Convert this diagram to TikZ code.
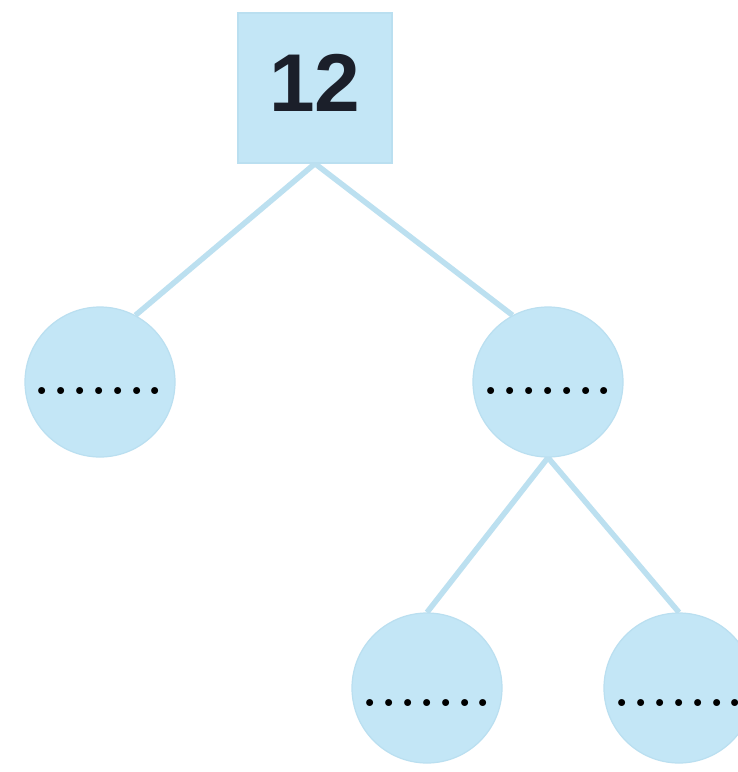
\documentclass[tikz,border=0pt]{standalone}
\usepackage{fontspec}
\setmainfont{Liberation Sans}
\newfontfamily\dotfamily{Latin Modern Roman}
\newcommand{\dotgap}{\hspace{-2.4pt}}
\newcommand{\dotline}{.\dotgap.\dotgap.\dotgap.\dotgap.\dotgap.\dotgap.}
\pgfdeclarelayer{paper}
\pgfdeclarelayer{links}
\pgfsetlayers{paper,links,main}
\begin{document}
\begin{tikzpicture}[x=1pt,y=-1pt,
  nodefill/.style={fill=bubble, draw=bubbleedge, line width=1.2pt},
  leaf/.style={nodefill, circle, minimum size=150pt, inner sep=0pt},
  rootbox/.style={nodefill, rectangle, minimum width=154pt, minimum height=150pt, inner sep=0pt,
     font=\fontsize{82}{90}\bfseries\selectfont, text=textdark, text depth=11pt},
  dotrow/.style={font=\dotfamily\fontsize{85}{90}\selectfont, text=black, anchor=base, inner sep=0pt},
  edge/.style={draw=linecol, line width=5.5pt}]
\definecolor{bubble}{HTML}{C3E6F6}
\definecolor{bubbleedge}{HTML}{BADFF0}
\definecolor{linecol}{HTML}{BCE0F0}
\definecolor{textdark}{HTML}{1B1F2A}
\useasboundingbox (0,0) rectangle (738,772);
\begin{pgfonlayer}{paper}
\fill[white] (0,0) rectangle (738,772);
\end{pgfonlayer}
\node[rootbox] (root) at (315,88) {12};
\node[leaf] (L) at (100,382) {};
\node[leaf] (R) at (548,382) {};
\node[leaf] (BL) at (427,688) {};
\node[leaf] (BR) at (679,688) {};
\begin{pgfonlayer}{links}
\path[edge] (root.south) -- (L.62);
\path[edge] (root.south) -- (R.118);
\path[edge] (R.south) -- (BL.north);
\path[edge] (R.south) -- (BR.north);
\end{pgfonlayer}
\node[dotrow] (Ld) at ([xshift=-1pt,yshift=-12.5pt]L.center) {\dotline};
\node[dotrow] (Rd) at ([yshift=-12.5pt]R.center) {\dotline};
\node[dotrow] (BLd) at ([yshift=-18.5pt]BL.center) {\dotline};
\node[dotrow] (BRd) at ([yshift=-18.5pt]BR.center) {\dotline};
\end{tikzpicture}
\end{document}
